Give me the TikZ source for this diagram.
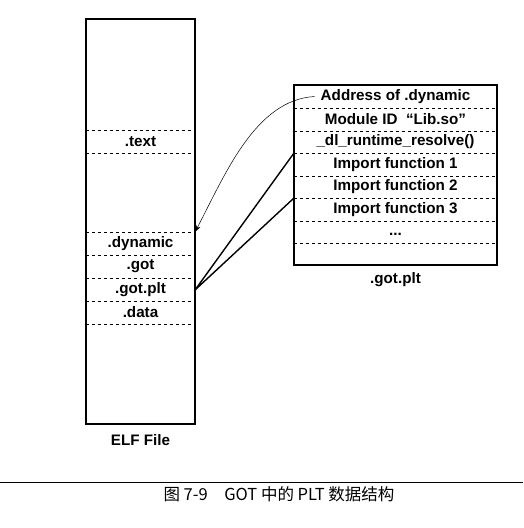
\documentclass[tikz,border=0pt]{standalone}
\usepackage{fontspec}
\setmainfont{Liberation Sans}
\newfontfamily\cjk{Noto Sans CJK SC}
\usepackage{tikz}
\usetikzlibrary{arrows.meta}

\begin{document}
\begin{tikzpicture}[x=1pt, y=-1pt,
    every node/.style={font=\bfseries\fontsize{15.2}{17}\selectfont, inner sep=0pt},
    box/.style={line width=1.2pt},
    sep/.style={dashed, line width=0.5pt}]
    \useasboundingbox (0,0) rectangle (523,528);

    % ELF file
    \draw[box] (86,19) rectangle (195,424);
    \foreach \y in {130,153,232,255,278,301,324}
        \draw[sep] (86,\y) -- (195,\y);

    \node (text) at (140.5,141.5) {.text};
    \node (dynamic) at (140.5,243.5) {.dynamic};
    \node (got) at (140.5,266.5) {.got};
    \node (gotplt) at (140.5,289.5) {.got.plt};
    \node (data) at (140.5,312.5) {.data};
    \node (elf) at (140.5,440) {ELF File};

    \coordinate (dynamic top) at (195,232);
    \coordinate (gotplt in) at (195,290);

    % .got.plt table
    \draw[box] (294,85) rectangle (497,265);
    \foreach \y in {108,131,153,176,198,221,243}
        \draw[sep] (294,\y) -- (497,\y);

    \node (addr) at (395.5,96.5) {Address of .dynamic};
    \node (module) at (395.5,119.5) {Module ID\ \ “Lib.so”};
    \node (resolve) at (395.5,142) {\_dl\_runtime\_resolve()};
    \node (func1) at (395.5,164.5) {Import function 1};
    \node (func2) at (395.5,187) {Import function 2};
    \node (func3) at (395.5,209.5) {Import function 3};
    \node (dots) at (395.5,234) {...};
    \node (table) at (395.5,280) {.got.plt};

    \coordinate (func1 top) at (294,153);
    \coordinate (func3 top) at (294,198);

    % pointers
    \draw[-{Stealth[length=7pt, width=5pt]}, line width=0.5pt]
        ([xshift=-6pt]addr.west) .. controls (255,100) and (225,175) .. (dynamic top);
    \draw[line width=1.4pt] (func1 top) -- (gotplt in) -- (func3 top);

    % caption
    \draw[line width=0.8pt] (0,482) -- (523,482);
    \node[font=\cjk\fontsize{16.5}{18}\selectfont] (caption) at (279,494)
        {图 7-9\quad GOT 中的 PLT 数据结构};
\end{tikzpicture}
\end{document}
